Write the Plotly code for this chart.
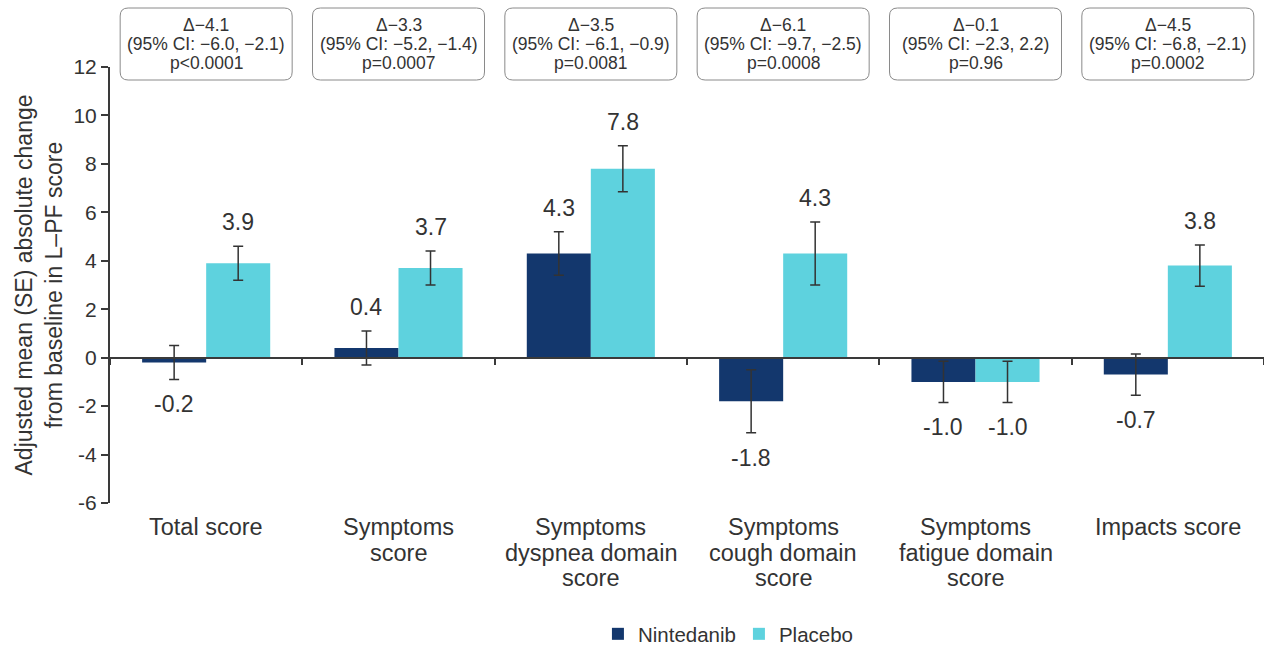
import plotly.graph_objects as go

# Categories and series
categories = [
    "Total score",
    "Symptoms<br>score",
    "Symptoms<br>dyspnea domain<br>score",
    "Symptoms<br>cough domain<br>score",
    "Symptoms<br>fatigue domain<br>score",
    "Impacts score",
]
nintedanib_mean = [-0.2, 0.4, 4.3, -1.8, -1.0, -0.7]
nintedanib_se = [0.7, 0.7, 0.9, 1.3, 0.85, 0.85]
placebo_mean = [3.9, 3.7, 7.8, 4.3, -1.0, 3.8]
placebo_se = [0.7, 0.7, 0.95, 1.3, 0.85, 0.85]

# Treatment difference boxes above each category
delta = ["−4.1", "−3.3", "−3.5", "−6.1", "−0.1", "−4.5"]
ci_text = ["−6.0, −2.1", "−5.2, −1.4", "−6.1, −0.9", "−9.7, −2.5", "−2.3, 2.2", "−6.8, −2.1"]
p_text = ["p&lt;0.0001", "p=0.0007", "p=0.0081", "p=0.0008", "p=0.96", "p=0.0002"]

y_tickvals = [-6, -4, -2, 0, 2, 4, 6, 8, 10, 12]
y_ticktext = ["-6", "-4", "-2", "0", "2", "4", "6", "8", "10", "12"]

NAVY = "#13376d"
CYAN = "#5ed2de"
TEXT = "#333333"
AXIS = "#3a3a3a"
FONT = "Liberation Sans, Arial, Helvetica, sans-serif"

W, H = 1264, 645
M_L, M_R, M_T, M_B = 110, 0, 67, 142
PW = W - M_L - M_R
PH = H - M_T - M_B
Y_MIN, Y_MAX = -6, 12

x_idx = list(range(len(categories)))

fig = go.Figure()
fig.add_trace(go.Bar(
    x=x_idx, y=nintedanib_mean, name="Nintedanib",
    marker=dict(color=NAVY, line=dict(width=0)),
    error_y=dict(type="data", array=nintedanib_se, color=TEXT, thickness=1.5, width=5),
))
fig.add_trace(go.Bar(
    x=x_idx, y=placebo_mean, name="Placebo",
    marker=dict(color=CYAN, line=dict(width=0)),
    error_y=dict(type="data", array=placebo_se, color=TEXT, thickness=1.5, width=5),
))

annotations = []
shapes = []

# Value labels beyond the end of each error bar
n_groups = len(categories)
bargap = 0.334
bar_offset = (1 - bargap) / 4  # half of a single bar's width, in category units
for series, ses, sign in ((nintedanib_mean, nintedanib_se, -1), (placebo_mean, placebo_se, 1)):
    for i, (v, se) in enumerate(zip(series, ses)):
        x = i + sign * bar_offset
        end = v + se if v >= 0 else v - se
        annotations.append(dict(
            x=x, y=end, xref="x", yref="y", text=f"{v:.1f}", showarrow=False,
            yshift=24 if v >= 0 else -25, yanchor="middle",
            font=dict(family=FONT, size=23, color=TEXT),
        ))

# Category labels under the plot, one line at a time for tight leading
CAT_LEAD = 25.5
for i, cat in enumerate(categories):
    for k, line in enumerate(cat.split("<br>")):
        annotations.append(dict(
            x=i, y=0, xref="x", yref="paper", text=line, showarrow=False,
            yanchor="middle", yshift=-24 - k * CAT_LEAD, align="center",
            font=dict(family=FONT, size=23.5, color=TEXT),
        ))


def px(xp):
    return (xp - M_L) / PW


def py(yp):
    return (H - M_B - yp) / PH


# Rounded boxes with the between-group difference
box_w, box_h, rad = 172, 72, 8
box_cy = 44  # px from top of page
BOX_LEAD = 18.5
for i in range(n_groups):
    cx = M_L + PW * (i + 0.5) / n_groups
    x0, x1 = cx - box_w / 2, cx + box_w / 2
    y0, y1 = box_cy - box_h / 2, box_cy + box_h / 2
    path = (
        f"M {px(x0 + rad)},{py(y0)} L {px(x1 - rad)},{py(y0)} "
        f"Q {px(x1)},{py(y0)} {px(x1)},{py(y0 + rad)} "
        f"L {px(x1)},{py(y1 - rad)} Q {px(x1)},{py(y1)} {px(x1 - rad)},{py(y1)} "
        f"L {px(x0 + rad)},{py(y1)} Q {px(x0)},{py(y1)} {px(x0)},{py(y1 - rad)} "
        f"L {px(x0)},{py(y0 + rad)} Q {px(x0)},{py(y0)} {px(x0 + rad)},{py(y0)} Z"
    )
    shapes.append(dict(type="path", path=path, xref="paper", yref="paper",
                       line=dict(color="#8a8a8a", width=1), fillcolor="white"))
    lines = [f"Δ{delta[i]}", f"(95% CI: {ci_text[i]})", p_text[i]]
    for k, line in enumerate(lines):
        annotations.append(dict(
            x=px(cx), y=py(box_cy + (k - 1) * BOX_LEAD), xref="paper", yref="paper",
            text=line, showarrow=False, align="center", xanchor="center", yanchor="middle",
            font=dict(family=FONT, size=17.5, color=TEXT),
        ))

fig.update_layout(
    width=W, height=H,
    margin=dict(l=M_L, r=M_R, t=M_T, b=M_B, pad=0, autoexpand=False),
    paper_bgcolor="white", plot_bgcolor="white",
    barmode="group", bargap=bargap, bargroupgap=0,
    font=dict(family=FONT, color=TEXT),
    showlegend=True,
    legend=dict(
        orientation="h", x=0.545, xanchor="center",
        yref="container", y=1 - 634 / H, yanchor="middle",
        font=dict(family=FONT, size=20.5, color=TEXT), itemclick=False,
        entrywidth=96, entrywidthmode="pixels",
    ),
    xaxis=dict(
        range=[-0.5, n_groups - 0.5], tickmode="array", tickvals=[i + 0.5 for i in range(-1, n_groups)],
        showticklabels=False, ticks="outside", ticklen=6, tickwidth=2, tickcolor=AXIS,
        showline=True, linecolor=AXIS, linewidth=2, showgrid=False, zeroline=False,
        anchor="free", position=(0 - Y_MIN) / (Y_MAX - Y_MIN),
    ),
    yaxis=dict(
        range=[Y_MIN, Y_MAX], tickmode="array", tickvals=y_tickvals, ticktext=y_ticktext,
        ticks="outside", ticklen=7, tickwidth=2, tickcolor=AXIS,
        showline=True, linecolor=AXIS, linewidth=2, showgrid=False, zeroline=False,
        tickfont=dict(family=FONT, size=21, color=TEXT), automargin=False,
        title=dict(text="Adjusted mean (SE) absolute change<br>from baseline in L–PF score",
                   font=dict(family=FONT, size=23, color=TEXT), standoff=4),
    ),
    annotations=annotations,
    shapes=shapes,
)

fig.write_html("out.html")
